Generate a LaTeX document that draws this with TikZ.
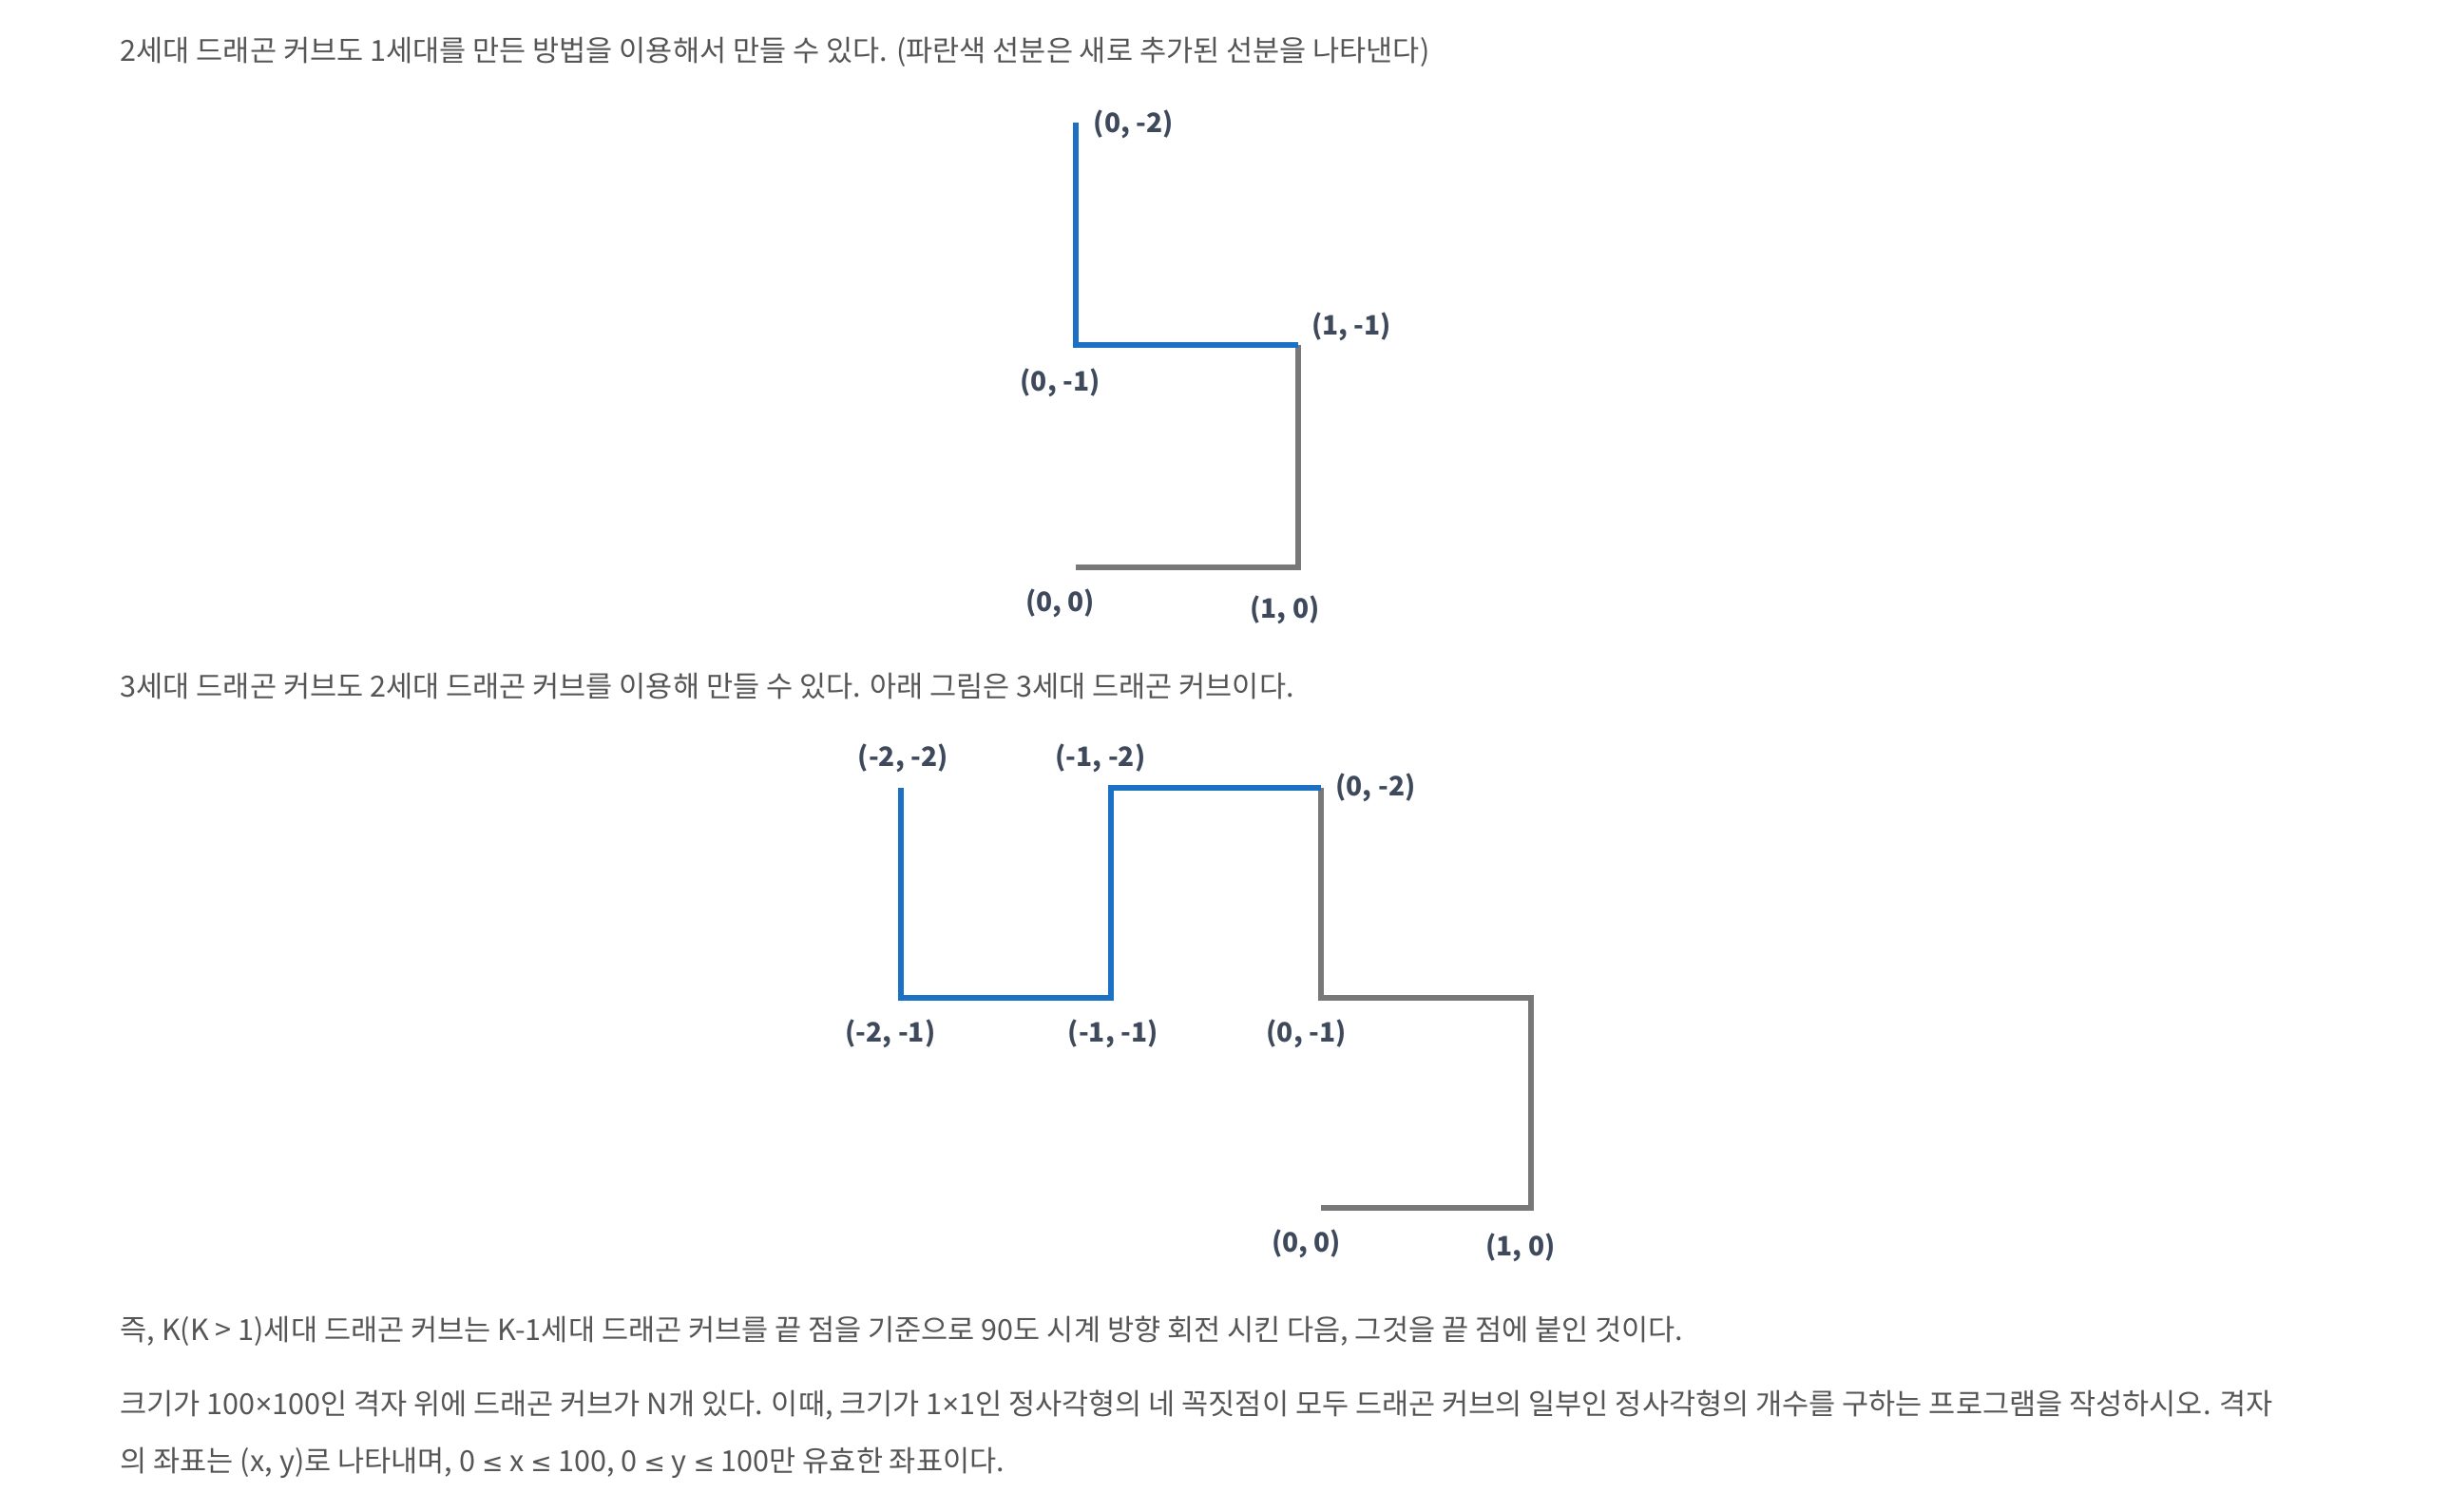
\documentclass[tikz,border=0pt]{standalone}
\usepackage{fontspec}
\setmainfont{Noto Sans CJK KR}
\newfontfamily\symfont{Noto Sans}
\newfontfamily\relfont{DejaVu Sans}
\newcommand{\mle}{{\relfont\fontsize{7.6}{10}\selectfont ≤}}
\newcommand{\mtimes}{{\symfont ×}}
\definecolor{curveblue}{HTML}{1B72C4}
\definecolor{curvegray}{HTML}{787878}
\definecolor{bodygray}{HTML}{555555}
\definecolor{lblgray}{HTML}{3E4A5C}
\tikzset{
  body/.style={anchor=base west, inner sep=0pt, text=bodygray, font=\fontsize{8.7}{10}\selectfont},
  lbl/.style={inner sep=0pt, text=lblgray, font=\fontsize{8}{10}\selectfont\bfseries},
  newseg/.style={draw=curveblue, line width=1.65pt},
  oldseg/.style={draw=curvegray, line width=1.65pt}
}
\begin{document}
\begin{tikzpicture}
\useasboundingbox (0,0) rectangle (25.78,-15.90);
\node[body] (txt1) at (1.26,-0.64) {2세대 드래곤 커브도 1세대를 만든 방법을 이용해서 만들 수 있다. (파란색 선분은 새로 추가된 선분을 나타낸다)};
\node[body] (txt2) at (1.26,-7.33) {3세대 드래곤 커브도 2세대 드래곤 커브를 이용해 만들 수 있다. 아래 그림은 3세대 드래곤 커브이다.};
\node[body] (txt3) at (1.26,-14.10) {즉, K(K > 1)세대 드래곤 커브는 K-1세대 드래곤 커브를 끝 점을 기준으로 90도 시계 방향 회전 시킨 다음, 그것을 끝 점에 붙인 것이다.};
\node[body] (txt4) at (1.26,-14.88) {크기가 100\mtimes100인 격자 위에 드래곤 커브가 N개 있다. 이때, 크기가 1\mtimes1인 정사각형의 네 꼭짓점이 모두 드래곤 커브의 일부인 정사각형의 개수를 구하는 프로그램을 작성하시오. 격자};
\node[body] (txt5) at (1.26,-15.48) {의 좌표는 (x, y)로 나타내며, 0 \mle{} x \mle{} 100, 0 \mle{} y \mle{} 100만 유효한 좌표이다.};

% 2nd generation
\begin{scope}[shift={(11.32,-5.97)}, x=2.34cm, y=-2.34cm]
    \coordinate (a00) at (0,0);
    \coordinate (a10) at (1,0);
    \coordinate (a1m1) at (1,-1);
    \coordinate (a0m1) at (0,-1);
    \coordinate (a0m2) at (0,-2);
    \draw[oldseg] (a00)--(a10)--(a1m1);
    \draw[newseg] (a1m1)--(a0m1)--(a0m2);
    \node[lbl] (la0m2) at (.26,-1.99) {(0, -2)};
    \node[lbl] (la1m1) at (1.24,-1.08) {(1, -1)};
    \node[lbl] (la0m1) at (-.07,-.83) {(0, -1)};
    \node[lbl] (la00) at (-.07,.16) {(0, 0)};
    \node[lbl] (la10) at (.94,.19) {(1, 0)};
\end{scope}

% 3rd generation
\begin{scope}[shift={(13.90,-12.71)}, x=2.21cm, y=-2.21cm]
    \coordinate (b00) at (0,0);
    \coordinate (b10) at (1,0);
    \coordinate (b1m1) at (1,-1);
    \coordinate (b0m1) at (0,-1);
    \coordinate (b0m2) at (0,-2);
    \coordinate (bm1m2) at (-1,-2);
    \coordinate (bm1m1) at (-1,-1);
    \coordinate (bm2m1) at (-2,-1);
    \coordinate (bm2m2) at (-2,-2);
    \draw[oldseg] (b00)--(b10)--(b1m1)--(b0m1)--(b0m2);
    \draw[newseg] (b0m2)--(bm1m2)--(bm1m1)--(bm2m1)--(bm2m2);
    \node[lbl] (lbm2m2) at (-1.99,-2.14) {(-2, -2)};
    \node[lbl] (lbm1m2) at (-1.05,-2.14) {(-1, -2)};
    \node[lbl] (lb0m2) at (.26,-2) {(0, -2)};
    \node[lbl] (lbm2m1) at (-2.05,-.83) {(-2, -1)};
    \node[lbl] (lbm1m1) at (-.99,-.83) {(-1, -1)};
    \node[lbl] (lb0m1) at (-.07,-.83) {(0, -1)};
    \node[lbl] (lb00) at (-.07,.17) {(0, 0)};
    \node[lbl] (lb10) at (.95,.19) {(1, 0)};
\end{scope}
\end{tikzpicture}
\end{document}
